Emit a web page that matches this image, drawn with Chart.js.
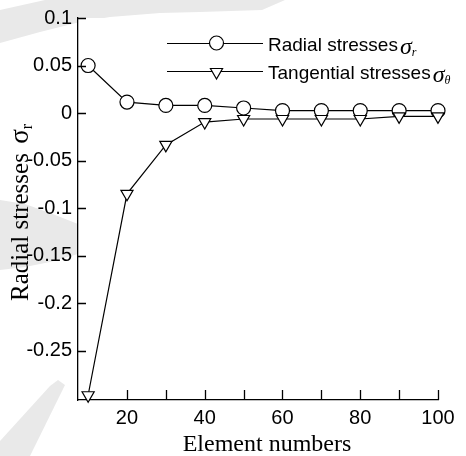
<!DOCTYPE html>
<html>
<head>
<meta charset="utf-8">
<script src="https://cdn.jsdelivr.net/npm/chart.js@4.4.1/dist/chart.umd.min.js"></script>
<style>
  html, body { margin: 0; padding: 0; background: #fff; }
  #wrap { position: relative; width: 466px; height: 456px; }
</style>
</head>
<body>
<div id="wrap"><canvas id="stressChart"></canvas></div>
<script>
// element numbers along the x axis
const elements = [10, 20, 30, 40, 50, 60, 70, 80, 90, 100];
// stresses per element
const radialStress = [0.050, 0.0115, 0.008, 0.008, 0.0053, 0.0025, 0.0025, 0.0025, 0.0025, 0.0025];
const tangentialStress = [-0.297, -0.085, -0.0335, -0.0095, -0.0063, -0.0063, -0.0063, -0.0063, -0.0035, -0.0035];
// tick positions
const xTicks = [20, 30, 40, 50, 60, 70, 80, 90, 100];
const xTickLabels = ['20', '', '40', '', '60', '', '80', '', '100'];
const yTicks = [0.1, 0.05, 0, -0.05, -0.1, -0.15, -0.2, -0.25];
const yTickLabels = ['0.1', '0.05', '0', '-0.05', '-0.1', '-0.15', '-0.2', '-0.25'];

const SANS = '"Liberation Sans", Arial, sans-serif';
const SERIF = '"Liberation Serif", "Times New Roman", serif';
const INK = '#000';
const SHADE = '#e9e9e9';

const toPoints = (ys) => elements.map((x, i) => ({ x, y: ys[i] }));

// faint background swash behind the figure margins
const swash = [
    [[0, 10], [45, 0], [285, 0], [262, 10], [200, 12], [160, 13], [110, 17], [80, 22], [40, 32], [0, 43]],
    [[0, 200], [25, 204], [50, 213], [78, 224], [78, 254], [50, 262], [25, 267], [0, 270]],
    [[50, 386], [58, 380], [65, 385], [30, 456], [0, 456], [0, 441]]
];

// draws a marker the same way the datasets do
const marker = (ctx, style, x, y) => {
    ctx.save();
    ctx.fillStyle = '#fff';
    ctx.strokeStyle = INK;
    ctx.lineWidth = 1.2;
    Chart.helpers.drawPoint(ctx, {
        pointStyle: style,
        radius: 7,
        rotation: style === 'triangle' ? 180 : 0,
        borderWidth: 1.2
    }, x, y);
    ctx.restore();
};

const backdrop = {
    id: 'backdrop',
    beforeDraw(chart) {
        const { ctx, chartArea } = chart;
        ctx.save();
        ctx.fillStyle = SHADE;
        swash.forEach(poly => {
            ctx.beginPath();
            poly.forEach(([x, y], i) => i ? ctx.lineTo(x, y) : ctx.moveTo(x, y));
            ctx.closePath();
            ctx.fill();
        });
        ctx.fillStyle = '#fff';
        ctx.fillRect(chartArea.left, chartArea.top, chartArea.width, chartArea.height);
        ctx.restore();
    }
};

// inward tick marks, axis titles and the legend box
const decorations = {
    id: 'decorations',
    afterDraw(chart) {
        const { ctx, chartArea, scales } = chart;
        const xs = scales.x, ys = scales.y;

        ctx.save();
        ctx.strokeStyle = INK;
        ctx.lineWidth = 1.3;
        ctx.beginPath();
        xTicks.forEach(v => {
            const px = Math.round(xs.getPixelForValue(v)) + 0.5;
            ctx.moveTo(px, chartArea.bottom);
            ctx.lineTo(px, chartArea.bottom - 10);
        });
        yTicks.forEach(v => {
            const py = Math.round(ys.getPixelForValue(v)) + 0.5;
            ctx.moveTo(chartArea.left, py);
            ctx.lineTo(chartArea.left + 8, py);
        });
        ctx.stroke();

        // x axis title
        ctx.fillStyle = INK;
        ctx.font = '24px ' + SERIF;
        ctx.textAlign = 'center';
        ctx.textBaseline = 'alphabetic';
        ctx.fillText('Element numbers', 267, 451);

        // y axis title, rotated, with subscript
        ctx.save();
        ctx.translate(28, 301);
        ctx.rotate(-Math.PI / 2);
        ctx.textAlign = 'left';
        ctx.font = '25px ' + SERIF;
        const main = 'Radial stresses ';
        ctx.fillText(main, 0, 0);
        let cx = ctx.measureText(main).width + 3;
        ctx.font = '27px ' + SERIF;
        ctx.fillText('\u03c3', cx, 0);
        cx += ctx.measureText('\u03c3').width;
        ctx.font = '16px ' + SERIF;
        ctx.fillText('r', cx, 4);
        ctx.restore();

        // legend
        const rows = [
            { style: 'circle', y: 43, label: 'Radial stresses', sub: 'r' },
            { style: 'triangle', y: 71, label: 'Tangential stresses', sub: '\u03b8' }
        ];
        rows.forEach(r => {
            ctx.strokeStyle = INK;
            ctx.lineWidth = 1.2;
            ctx.beginPath();
            ctx.moveTo(167, r.y + 0.5);
            ctx.lineTo(263, r.y + 0.5);
            ctx.stroke();
            marker(ctx, r.style, 216.5, r.style === 'triangle' ? r.y + 1 : r.y);

            ctx.fillStyle = INK;
            ctx.textAlign = 'left';
            ctx.font = '19px ' + SANS;
            ctx.fillText(r.label, 268, r.y + 8);
            let tx = 268 + ctx.measureText(r.label).width + 2;
            ctx.font = 'italic 24px ' + SERIF;
            ctx.fillText('\u03c3', tx, r.y + 11);
            tx += ctx.measureText('\u03c3').width;
            ctx.font = 'italic 12px ' + SERIF;
            ctx.fillText(r.sub, tx, r.y + 13);
        });
        ctx.restore();
    }
};

new Chart(document.getElementById('stressChart'), {
    type: 'line',
    data: {
        datasets: [{
            label: 'Tangential stresses',
            data: toPoints(tangentialStress),
            borderColor: INK,
            borderWidth: 1.2,
            pointStyle: 'triangle',
            pointRotation: 180,
            pointRadius: 7,
            pointBackgroundColor: '#fff',
            pointBorderColor: INK,
            pointBorderWidth: 1.2,
            tension: 0,
            clip: false,
            order: 0
        }, {
            label: 'Radial stresses',
            data: toPoints(radialStress),
            borderColor: INK,
            borderWidth: 1.2,
            pointStyle: 'circle',
            pointRadius: 7,
            pointBackgroundColor: '#fff',
            pointBorderColor: INK,
            pointBorderWidth: 1.2,
            tension: 0,
            clip: false,
            order: 1
        }]
    },
    options: {
        responsive: true,
        maintainAspectRatio: false,
        animation: false,
        layout: {
            padding: { top: 15, right: 28, bottom: 0, left: 0 }
        },
        plugins: {
            legend: { display: false },
            tooltip: { enabled: false }
        },
        scales: {
            x: {
                type: 'linear',
                min: 7.4,
                max: 100,
                afterBuildTicks: (scale) => {
                    scale.ticks = xTicks.map(v => ({ value: v }));
                },
                afterFit: (scale) => { scale.height = 56; },
                ticks: {
                    autoSkip: false,
                    maxRotation: 0,
                    padding: 6,
                    color: INK,
                    font: { family: SANS, size: 20 },
                    callback: (v) => xTickLabels[xTicks.indexOf(v)] ?? ''
                },
                grid: { display: false, drawTicks: false },
                border: { display: true, color: INK, width: 1.3 }
            },
            y: {
                type: 'linear',
                min: -0.302,
                max: 0.1,
                afterBuildTicks: (scale) => {
                    scale.ticks = yTicks.map(v => ({ value: v }));
                },
                afterFit: (scale) => { scale.width = 78; },
                ticks: {
                    autoSkip: false,
                    padding: 6,
                    color: INK,
                    font: { family: SANS, size: 20 },
                    callback: (v) => yTickLabels[yTicks.indexOf(v)] ?? ''
                },
                grid: { display: false, drawTicks: false },
                border: { display: true, color: INK, width: 1.3 }
            }
        }
    },
    plugins: [backdrop, decorations]
});
</script>
</body>
</html>
